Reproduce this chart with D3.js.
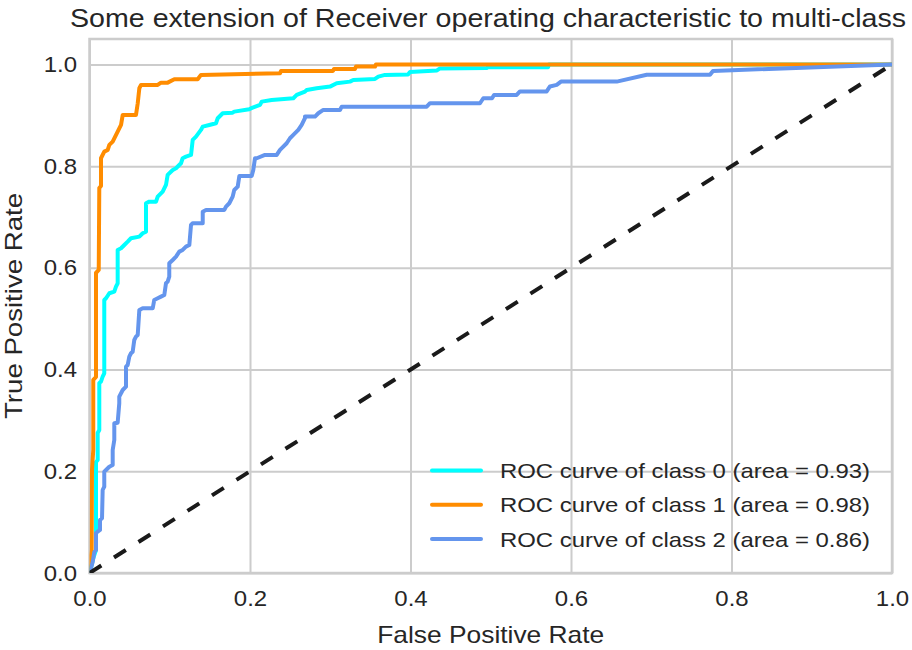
<!DOCTYPE html>
<html>
<head>
<meta charset="utf-8">
<script src="https://cdn.jsdelivr.net/npm/d3@7"></script>
<style>
  body { margin: 0; background: #ffffff; }
  text { font-family: "Liberation Sans", Arial, Helvetica, sans-serif; fill: #262626; }
</style>
</head>
<body>
<svg id="chart" width="912" height="650"></svg>
<script>
// ROC curves, one per class (false positive rate / true positive rate pairs)
const classNames = ["ROC curve of class 0", "ROC curve of class 1", "ROC curve of class 2"];
const aucValues = [0.93, 0.98, 0.86];
const classColors = ["#00ffff", "#ff8c00", "#6495ed"];
const xTicks = [0.0, 0.2, 0.4, 0.6, 0.8, 1.0];
const yTicks = [0.0, 0.2, 0.4, 0.6, 0.8, 1.0];

const fpr0 = [0, 0.0019, 0.0040, 0.0081, 0.0081, 0.0102, 0.0102, 0.0122, 0.0122, 0.0143, 0.0164, 0.0184,
  0.0184, 0.0206, 0.0247, 0.0309, 0.0330, 0.0351, 0.0351, 0.0393, 0.0434, 0.0476, 0.0517, 0.0621, 0.0663,
  0.0704, 0.0704, 0.0745, 0.0829, 0.0850, 0.0912, 0.0953, 0.0974, 0.1037, 0.1078, 0.1140, 0.1161, 0.1202,
  0.1265, 0.1286, 0.1327, 0.1389, 0.1411, 0.1493, 0.1576, 0.1598, 0.1660, 0.1784, 0.1804, 0.1991, 0.2025,
  0.2125, 0.2146, 0.2270, 0.2540, 0.2582, 0.2685, 0.2707, 0.2831, 0.2997, 0.3080, 0.3246, 0.3287, 0.3558,
  0.3599, 0.3682, 0.3969, 0.3994, 0.4330, 0.4368, 0.4950, 0.4966, 0.5713, 0.5726, 1.0];
const tpr0 = [0, 0.0098, 0.0256, 0.0452, 0.2183, 0.2222, 0.2753, 0.2812, 0.3736, 0.3762, 0.3860, 0.3927,
  0.5369, 0.5402, 0.5501, 0.5532, 0.5630, 0.5697, 0.6352, 0.6385, 0.6450, 0.6515, 0.6582, 0.6614, 0.6680,
  0.6712, 0.7270, 0.7302, 0.7302, 0.7400, 0.7498, 0.7630, 0.7827, 0.7925, 0.7959, 0.8057, 0.8155, 0.8187,
  0.8220, 0.8515, 0.8580, 0.8712, 0.8777, 0.8810, 0.8844, 0.8942, 0.9040, 0.9052, 0.9072, 0.9119, 0.9145,
  0.9204, 0.9269, 0.9302, 0.9335, 0.9400, 0.9465, 0.9499, 0.9532, 0.9564, 0.9630, 0.9662, 0.9695, 0.9715,
  0.9760, 0.9794, 0.9803, 0.9853, 0.9882, 0.9921, 0.9931, 0.9945, 0.9945, 1.0, 1.0];

const fpr1 = [0, 0.0012, 0.0027, 0.0031, 0.0047, 0.0047, 0.0081, 0.0081, 0.0115, 0.0122, 0.0143, 0.0143,
  0.0184, 0.0227, 0.0247, 0.0289, 0.0351, 0.0393, 0.0414, 0.0579, 0.0601, 0.0621, 0.0642, 0.0850, 0.0891,
  0.0974, 0.1057, 0.1348, 0.1389, 0.2374, 0.2386, 0.3034, 0.3047, 0.3308, 0.3321, 0.3558, 0.3570, 1.0];
const tpr1 = [0, 0.026, 0.045, 0.2026, 0.2419, 0.3796, 0.3854, 0.590, 0.596, 0.757, 0.761, 0.8155,
  0.8285, 0.8319, 0.8417, 0.8482, 0.8679, 0.8810, 0.9007, 0.9007, 0.9237, 0.9532, 0.9597, 0.9597, 0.9642,
  0.9642, 0.9709, 0.9709, 0.9794, 0.9827, 0.9872, 0.9872, 0.9912, 0.9912, 0.9957, 0.9957, 1.0, 1.0];

const fpr2 = [0, 0.0019, 0.0040, 0.0060, 0.0081, 0.0081, 0.0102, 0.0131, 0.0131, 0.0156, 0.0164, 0.0184,
  0.0184, 0.0206, 0.0247, 0.0289, 0.0289, 0.0309, 0.0309, 0.0351, 0.0371, 0.0371, 0.0414, 0.0455, 0.0455,
  0.0476, 0.0496, 0.0517, 0.0538, 0.0558, 0.0579, 0.0601, 0.0621, 0.0663, 0.0788, 0.0807, 0.0850, 0.0891,
  0.0932, 0.0953, 0.0974, 0.0994, 0.0994, 0.1037, 0.1078, 0.1119, 0.1161, 0.1202, 0.1244, 0.1265, 0.1286,
  0.1411, 0.1411, 0.1452, 0.1680, 0.1701, 0.1742, 0.1784, 0.1804, 0.1847, 0.1867, 0.2021, 0.2041, 0.2062,
  0.2084, 0.2187, 0.2333, 0.2374, 0.2415, 0.2457, 0.2498, 0.2540, 0.2602, 0.2644, 0.2685, 0.2685, 0.2810,
  0.2851, 0.2913, 0.3121, 0.3143, 0.4202, 0.4243, 0.4866, 0.4907, 0.5016, 0.5041, 0.5323, 0.5364, 0.5697,
  0.5738, 0.5822, 0.5875, 0.6570, 0.6944, 0.7732, 0.7769, 1.0];
const tpr2 = [0, 0.0098, 0.0216, 0.0413, 0.0452, 0.0787, 0.0812, 0.0846, 0.1042, 0.1076, 0.1632, 0.1697,
  0.1992, 0.2026, 0.2090, 0.2124, 0.2419, 0.2616, 0.2944, 0.2956, 0.3337, 0.3467, 0.3599, 0.3664, 0.4057,
  0.4090, 0.4254, 0.4321, 0.4352, 0.4582, 0.4647, 0.4680, 0.5172, 0.5206, 0.5206, 0.5369, 0.5402, 0.5434,
  0.5467, 0.5697, 0.5729, 0.5827, 0.6091, 0.6155, 0.6220, 0.6319, 0.6352, 0.6417, 0.6450, 0.6844, 0.6877,
  0.6877, 0.7105, 0.7139, 0.7139, 0.7204, 0.7270, 0.7400, 0.7532, 0.7597, 0.7807, 0.7807, 0.7925, 0.8155,
  0.8155, 0.8220, 0.8220, 0.8318, 0.8384, 0.8450, 0.8549, 0.8614, 0.8712, 0.8810, 0.8942, 0.8974, 0.8974,
  0.9040, 0.9105, 0.9105, 0.9170, 0.9170, 0.9237, 0.9237, 0.9335, 0.9335, 0.9400, 0.9400, 0.9469, 0.9469,
  0.9567, 0.9597, 0.9662, 0.9662, 0.9797, 0.9797, 0.9872, 1.0];

const chanceLine = [0, 1];

const curves = [
  { fpr: fpr0, tpr: tpr0 },
  { fpr: fpr1, tpr: tpr1 },
  { fpr: fpr2, tpr: tpr2 }
];

const svg = d3.select("#chart");
const W = 912, H = 650;
const plot = { left: 89.5, right: 892, top: 39, bottom: 573 };
const textStretch = 1.09;

const x = d3.scaleLinear().domain([0, 1]).range([plot.left, plot.right]);
const y = d3.scaleLinear().domain([0, 1.05]).range([plot.bottom, plot.top]);

svg.append("rect").attr("width", W).attr("height", H).attr("fill", "#ffffff");

svg.append("defs").append("clipPath").attr("id", "plot-clip")
  .append("rect")
  .attr("x", plot.left).attr("y", plot.top)
  .attr("width", plot.right - plot.left).attr("height", plot.bottom - plot.top);

// grid + tick labels
const gx = svg.append("g")
  .attr("transform", `translate(0,${plot.bottom})`)
  .call(d3.axisBottom(x).tickValues(xTicks).tickFormat(d3.format(".1f"))
    .tickSize(-(plot.bottom - plot.top)).tickPadding(17));
const gy = svg.append("g")
  .attr("transform", `translate(${plot.left},0)`)
  .call(d3.axisLeft(y).tickValues(yTicks).tickFormat(d3.format(".1f"))
    .tickSize(-(plot.right - plot.left)).tickPadding(11.5));

[gx, gy].forEach(g => {
  g.select(".domain").remove();
  g.selectAll(".tick line").attr("stroke", "#cccccc").attr("stroke-width", 2);
  g.selectAll(".tick text")
    .style("font-size", "22px").attr("fill", "#262626")
    .attr("transform", `scale(${textStretch},1)`);
});

// frame
svg.append("rect")
  .attr("x", plot.left).attr("y", plot.top)
  .attr("width", plot.right - plot.left).attr("height", plot.bottom - plot.top)
  .attr("fill", "none").attr("stroke", "#cccccc").attr("stroke-width", 2.5);

const line = d3.line().x(d => x(d[0])).y(d => y(d[1]));
const curveLayer = svg.append("g").attr("clip-path", "url(#plot-clip)");

curves.forEach((c, i) => {
  curveLayer.append("path")
    .datum(c.fpr.map((f, k) => [f, c.tpr[k]]))
    .attr("d", line)
    .attr("fill", "none")
    .attr("stroke", classColors[i])
    .attr("stroke-width", 4)
    .attr("stroke-linejoin", "round");
});

// chance diagonal
curveLayer.append("path")
  .datum(chanceLine.map(v => [v, v]))
  .attr("d", line)
  .attr("fill", "none")
  .attr("stroke", "#1a1a1a")
  .attr("stroke-width", 4)
  .attr("stroke-dasharray", "14,15");

// legend (wide text face, stretched horizontally)
const legend = svg.append("g");
const rowY = [470.5, 504.7, 539];
classNames.forEach((name, i) => {
  legend.append("line")
    .attr("x1", 432).attr("x2", 481)
    .attr("y1", rowY[i]).attr("y2", rowY[i])
    .attr("stroke", classColors[i]).attr("stroke-width", 4)
    .attr("stroke-linecap", "round");
  legend.append("text")
    .attr("x", 500).attr("y", rowY[i]).attr("dy", "0.36em")
    .attr("textLength", 370).attr("lengthAdjust", "spacingAndGlyphs")
    .style("font-size", "21px")
    .text(`${name} (area = ${aucValues[i].toFixed(2)})`);
});

// title and axis labels
svg.append("text")
  .attr("x", 488).attr("y", 27)
  .attr("text-anchor", "middle").style("font-size", "25px")
  .attr("textLength", 836).attr("lengthAdjust", "spacingAndGlyphs")
  .text("Some extension of Receiver operating characteristic to multi-class");

svg.append("text")
  .attr("x", (plot.left + plot.right) / 2).attr("y", 643)
  .attr("text-anchor", "middle").style("font-size", "24px")
  .attr("textLength", 227).attr("lengthAdjust", "spacingAndGlyphs")
  .text("False Positive Rate");

svg.append("text")
  .attr("transform", `translate(22,${(plot.top + plot.bottom) / 2}) rotate(-90)`)
  .attr("text-anchor", "middle").style("font-size", "24px")
  .attr("textLength", 226).attr("lengthAdjust", "spacingAndGlyphs")
  .text("True Positive Rate");
</script>
</body>
</html>
